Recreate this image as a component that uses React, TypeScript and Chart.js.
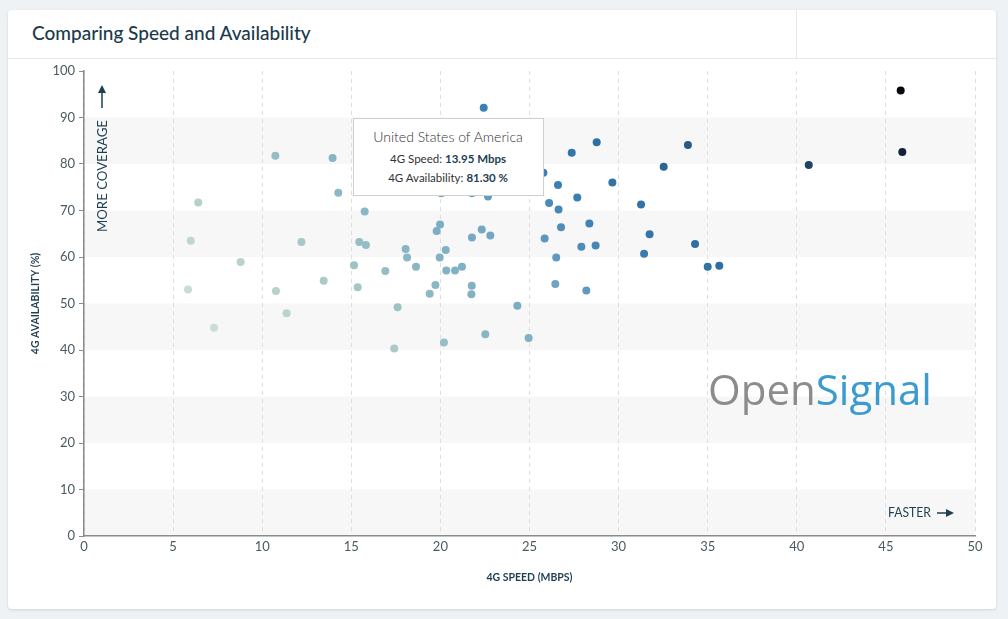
import React, { useEffect, useRef, useState } from "react";
import { Chart, registerables } from "chart.js";

Chart.register(...registerables);

// ---------------- data ----------------
const chartTitle = "Comparing Speed and Availability";
const xAxisTitle = "4G SPEED (MBPS)";
const yAxisTitle = "4G AVAILABILITY (%)";
const xTickValues = [0, 5, 10, 15, 20, 25, 30, 35, 40, 45, 50];
const yTickValues = [0, 10, 20, 30, 40, 50, 60, 70, 80, 90, 100];

// 4G speed (Mbps) per country
const speedMbps = [
  10.74, 13.95, 14.27, 6.41, 15.75, 5.99, 12.2, 15.45, 15.82, 8.79,
  15.15, 5.84, 10.77, 13.45, 15.36, 11.37, 7.3, 22.43, 25.78, 26.1,
  20.05, 21.77, 22.67, 19.98, 19.79, 22.32, 21.77, 22.8, 25.85, 18.05,
  20.3, 18.13, 19.96, 18.63, 16.91, 20.33, 20.82, 21.21, 19.72, 19.4,
  21.76, 21.74, 17.6, 24.32, 22.52, 20.2, 17.41, 24.95, 28.77, 27.37,
  33.89, 32.53, 26.6, 29.65, 27.68, 26.63, 31.26, 26.77, 28.36, 31.74,
  27.91, 28.71, 34.29, 31.43, 26.5, 35.0, 35.65, 26.45, 28.19, 45.83,
  45.92, 40.67,
];
// 4G availability (%) per country
const availabilityPct = [
  81.8, 81.3, 73.8, 71.7, 69.8, 63.5, 63.2, 63.2, 62.6, 58.9,
  58.2, 53.0, 52.7, 54.9, 53.5, 47.9, 44.8, 92.1, 78.1, 71.6,
  73.7, 73.7, 73.0, 67.0, 65.6, 65.9, 64.2, 64.6, 64.0, 61.7,
  61.5, 59.9, 59.9, 57.9, 57.0, 57.1, 57.1, 57.9, 54.0, 52.1,
  53.8, 52.0, 49.2, 49.5, 43.4, 41.6, 40.3, 42.6, 84.7, 82.4,
  84.1, 79.4, 75.5, 76.0, 72.8, 70.2, 71.3, 66.4, 67.2, 64.9,
  62.2, 62.5, 62.8, 60.7, 59.9, 57.9, 58.1, 54.2, 52.8, 95.8,
  82.6, 79.8,
];
const highlightIndex = 1;
const highlightCountry = "United States of America";

// ---------------- styles ----------------
const FONT = "Lato, 'Noto Sans', sans-serif";
const NAVY = "#1d3f50";
const COLOR_STOPS: [number, number[]][] = [
  [0.37, [203, 221, 215]],
  [0.55, [170, 202, 198]],
  [0.65, [140, 185, 196]],
  [0.8, [110, 163, 194]],
  [0.91, [59, 128, 181]],
  [1.05, [42, 101, 150]],
  [1.21, [30, 69, 103]],
  [1.33, [20, 36, 58]],
  [1.4, [5, 8, 12]],
];

function pointColor(x: number, y: number): string {
  const s = x / 50 + (0.5 * y) / 100;
  if (s <= COLOR_STOPS[0][0]) return `rgb(${COLOR_STOPS[0][1].join(",")})`;
  for (let i = 1; i < COLOR_STOPS.length; i++) {
    const [s1, c1] = COLOR_STOPS[i];
    const [s0, c0] = COLOR_STOPS[i - 1];
    if (s <= s1) {
      const t = (s - s0) / (s1 - s0);
      const c = c0.map((v, k) => Math.round(v + (c1[k] - v) * t));
      return `rgb(${c.join(",")})`;
    }
  }
  return `rgb(${COLOR_STOPS[COLOR_STOPS.length - 1][1].join(",")})`;
}

const bandsPlugin = {
  id: "bands",
  beforeDraw(chart: any) {
    const { ctx, chartArea: a, scales } = chart;
    const y = scales.y;
    ctx.save();
    ctx.fillStyle = "#f7f7f7";
    for (let i = 0; i < yTickValues.length - 1; i++) {
      if (i % 2 === 0) {
        const top = y.getPixelForValue(yTickValues[i + 1]);
        const bottom = y.getPixelForValue(yTickValues[i]);
        ctx.fillRect(a.left, top, a.right - a.left, bottom - top);
      }
    }
    ctx.restore();
  },
};

function fitText(ctx: CanvasRenderingContext2D, text: string, x: number, y: number, width: number) {
  const w = ctx.measureText(text).width;
  ctx.save();
  ctx.translate(x, y);
  ctx.scale(width / w, 1);
  ctx.fillText(text, 0, 0);
  ctx.restore();
}

const annotationsPlugin = {
  id: "annotations",
  beforeDatasetsDraw(chart: any) {
    const { ctx, chartArea: a } = chart;
    ctx.save();
    ctx.fillStyle = NAVY;
    ctx.strokeStyle = NAVY;
    // MORE COVERAGE (vertical)
    const mx = a.left + 18;
    ctx.lineWidth = 1.5;
    ctx.beginPath();
    ctx.moveTo(mx, a.top + 37);
    ctx.lineTo(mx, a.top + 20);
    ctx.stroke();
    ctx.beginPath();
    ctx.moveTo(mx, a.top + 14);
    ctx.lineTo(mx - 4, a.top + 22);
    ctx.lineTo(mx + 4, a.top + 22);
    ctx.closePath();
    ctx.fill();
    ctx.save();
    ctx.translate(mx, a.top + 161);
    ctx.rotate(-Math.PI / 2);
    ctx.font = `14px ${FONT}`;
    ctx.textAlign = "left";
    ctx.textBaseline = "middle";
    fitText(ctx, "MORE COVERAGE", 0, 0, 112);
    ctx.restore();

    // FASTER ->
    const fy = a.bottom - 23;
    ctx.font = `13px ${FONT}`;
    ctx.textAlign = "left";
    ctx.textBaseline = "middle";
    fitText(ctx, "FASTER", a.right - 87, fy, 43);
    ctx.beginPath();
    ctx.moveTo(a.right - 38, fy);
    ctx.lineTo(a.right - 28, fy);
    ctx.stroke();
    ctx.beginPath();
    ctx.moveTo(a.right - 21, fy);
    ctx.lineTo(a.right - 29, fy - 4);
    ctx.lineTo(a.right - 29, fy + 4);
    ctx.closePath();
    ctx.fill();

    // OpenSignal logo
    const lx = a.left + 624;
    const ly = a.bottom - 131;
    let size = 44;
    ctx.font = `400 ${size}px 'Open Sans', ${FONT}`;
    const total = ctx.measureText("OpenSignal").width;
    size = (size * 224) / total;
    ctx.font = `400 ${size}px 'Open Sans', ${FONT}`;
    ctx.textBaseline = "alphabetic";
    ctx.fillStyle = "#8c8c8c";
    ctx.fillText("Open", lx, ly);
    const ow = ctx.measureText("Open").width;
    ctx.fillStyle = "#3a9bd0";
    ctx.fillText("Signal", lx + ow, ly);
    ctx.restore();
  },
};

type Tip = { x: number; y: number; index: number } | null;

export default function App() {
  const canvasRef = useRef<HTMLCanvasElement | null>(null);
  const [tip, setTip] = useState<Tip>(null);

  useEffect(() => {
    if (!canvasRef.current) return;
    const points = speedMbps.map((x, i) => ({ x, y: availabilityPct[i] }));
    const chart = new Chart(canvasRef.current, {
      type: "scatter",
      data: {
        datasets: [
          {
            data: points,
            pointRadius: 4,
            pointHoverRadius: 4,
            borderWidth: 0,
            backgroundColor: (c: any) =>
              c.raw ? pointColor(c.raw.x, c.raw.y) : "#3b80b5",
          },
        ],
      },
      options: {
        animation: false,
        responsive: true,
        maintainAspectRatio: false,
        events: [],
        layout: { padding: { left: 0, top: 12, right: 21, bottom: 0 } },
        plugins: {
          legend: { display: false },
          tooltip: {
            enabled: false,
            external: ({ tooltip }: any) => {
              if (!tooltip || tooltip.opacity === 0 || !tooltip.dataPoints?.length) {
                setTip(null);
                return;
              }
              setTip({
                x: tooltip.caretX,
                y: tooltip.caretY,
                index: tooltip.dataPoints[0].dataIndex,
              });
            },
          },
        },
        scales: {
          x: {
            type: "linear",
            min: 0,
            max: 50,
            afterBuildTicks: (s: any) => {
              s.ticks = xTickValues.map((v) => ({ value: v }));
            },
            afterFit: (s: any) => {
              s.height = 73;
            },
            border: { display: true, color: "#8a8a8a", width: 1.5, dash: [4, 4] },
            grid: {
              display: true,
              drawOnChartArea: true,
              drawTicks: false,
              color: "#dddddd",
              lineWidth: 1,
            },
            ticks: {
              padding: 3,
              color: "#4a5a62",
              font: { family: FONT, size: 13 },
              maxRotation: 0,
            },
            title: {
              display: true,
              text: xAxisTitle,
              color: NAVY,
              font: { family: FONT, size: 10.5, weight: "bold" },
              padding: { top: 0, bottom: 25 },
            },
          },
          y: {
            type: "linear",
            min: 0,
            max: 100,
            afterBuildTicks: (s: any) => {
              s.ticks = yTickValues.map((v) => ({ value: v }));
            },
            afterFit: (s: any) => {
              s.width = 76;
            },
            border: { display: true, color: "#8a8a8a", width: 1.5 },
            grid: {
              display: true,
              drawOnChartArea: false,
              drawTicks: true,
              tickLength: 5,
              tickColor: "#8a8a8a",
            },
            ticks: {
              padding: 4,
              color: "#4a5a62",
              font: { family: FONT, size: 13 },
            },
            title: {
              display: true,
              text: yAxisTitle,
              color: NAVY,
              font: { family: FONT, size: 10.5, weight: "bold" },
              padding: { top: 21, bottom: 0 },
            },
          },
        },
      },
      plugins: [bandsPlugin, annotationsPlugin],
    } as any);

    chart.tooltip?.setActiveElements([{ datasetIndex: 0, index: highlightIndex }], {
      x: 0,
      y: 0,
    });
    chart.update();

    let alive = true;
    if ((document as any).fonts) {
      Promise.all([
        document.fonts.load(`13px Lato`),
        document.fonts.load(`bold 13px Lato`),
        document.fonts.load(`400 40px 'Open Sans'`),
      ])
        .catch(() => null)
        .then(() => {
          if (alive) chart.update();
        });
    }
    return () => {
      alive = false;
      chart.destroy();
    };
  }, []);

  return (
    <div
      style={{
        position: "fixed",
        inset: 0,
        background: "#eef2f5",
        fontFamily: FONT,
      }}
    >
      <div
        style={{
          position: "absolute",
          left: 8,
          top: 10,
          width: 988,
          height: 599,
          background: "#ffffff",
          borderRadius: 4,
          boxShadow: "0 1px 3px rgba(0,0,0,0.12)",
          overflow: "hidden",
        }}
      >
        <div
          style={{
            position: "absolute",
            left: 0,
            top: 0,
            width: 988,
            height: 48,
            borderBottom: "1px solid #e6e9eb",
          }}
        >
          <div
            style={{
              position: "absolute",
              left: 0,
              top: 0,
              width: 789,
              height: 48,
              borderRight: "1px solid #e6e9eb",
              boxSizing: "border-box",
            }}
          />
          <div
            style={{
              position: "absolute",
              left: 24,
              top: 10,
              height: 26,
              lineHeight: "26px",
              fontSize: 19,
              fontWeight: 500,
              color: "#1b3a4b",
              whiteSpace: "nowrap",
            }}
          >
            {chartTitle}
          </div>
        </div>
        <div
          style={{
            position: "absolute",
            left: 0,
            top: 49,
            width: 988,
            height: 550,
          }}
        >
          <canvas ref={canvasRef} />
          {tip && (
            <div
              style={{
                position: "absolute",
                left: tip.x + 20,
                top: tip.y - 40,
                width: 191,
                boxSizing: "border-box",
                background: "#ffffff",
                border: "1px solid #cfcfcf",
                padding: "8px 6px 8px 6px",
                textAlign: "center",
                color: "#333",
                whiteSpace: "nowrap",
                pointerEvents: "none",
              }}
            >
              <div style={{ fontSize: 14, lineHeight: "20px", fontWeight: 300, marginBottom: 2 }}>
                {highlightCountry}
              </div>
              <div style={{ fontSize: 11.5, lineHeight: "19px" }}>
                4G Speed:{" "}
                <b style={{ color: NAVY }}>{speedMbps[tip.index].toFixed(2)} Mbps</b>
              </div>
              <div style={{ fontSize: 11.5, lineHeight: "19px" }}>
                4G Availability:{" "}
                <b style={{ color: NAVY }}>{availabilityPct[tip.index].toFixed(2)} %</b>
              </div>
            </div>
          )}
        </div>
      </div>
    </div>
  );
}
